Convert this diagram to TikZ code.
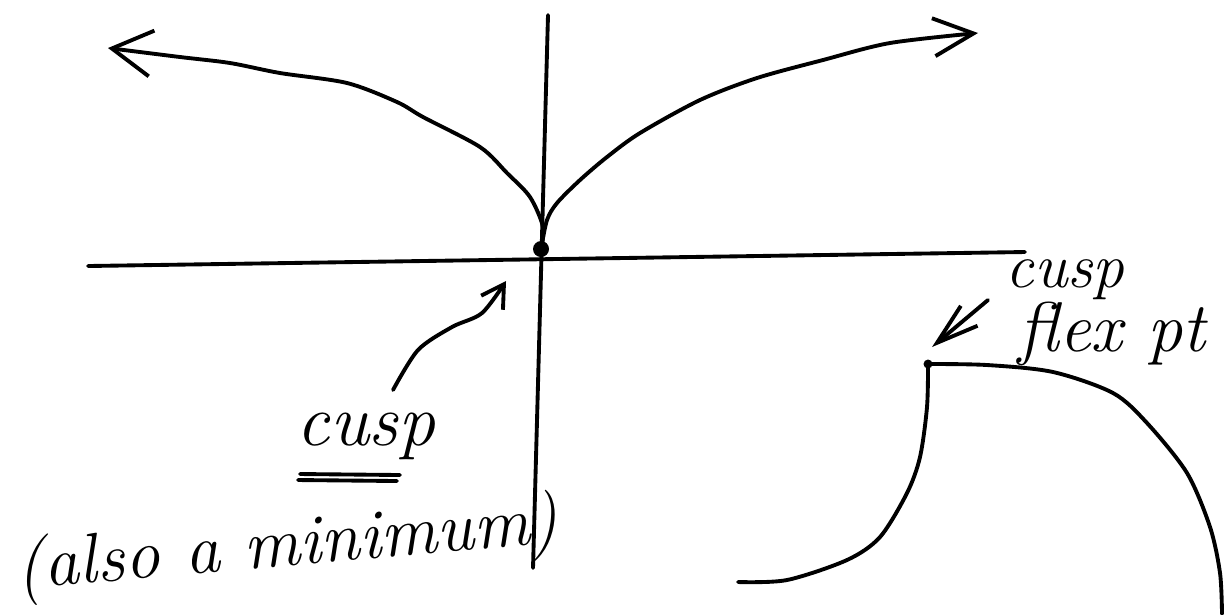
\documentclass[tikz,border=0pt]{standalone}
\usetikzlibrary{arrows.meta}
\begin{document}
\begin{tikzpicture}[x=0.01cm,y=-0.01cm,
  pen/.style={line width=1.1pt,line cap=round,line join=round},
  bigtip/.style={-{Straight Barb[length=4mm,width=4.6mm]}},
  smalltip/.style={-{Straight Barb[length=2.2mm,width=2.6mm]}},
  hand/.style={font=\fontsize{21}{24}\selectfont\itshape,inner sep=0pt}]
\useasboundingbox (0,0) rectangle (1225,614);
% key points
\coordinate (O) at (541,249);
\coordinate (P) at (928,364);
\coordinate (xl) at (88,266);
\coordinate (xr) at (1025,252);
\coordinate (yt) at (548,15);
\coordinate (yb) at (533,568);
% axes
\draw[pen] (xl) -- (xr);
\draw[pen] (yt) -- (yb);
% cusp curve
\draw[pen,bigtip] plot[smooth] coordinates {(541,249) (543,227) (530,197) (507,173) (480,147) (423,117) (397,102) (347,83) (280,73) (230,63) (180,57) (108,48)};
\draw[pen,-{Straight Barb[length=4mm,width=3.8mm]}] plot[smooth] coordinates {(541,249) (547,220) (557,203) (580,180) (607,157) (640,133) (700,100) (757,78) (823,60) (890,43) (978,33)};
\fill (O) circle[radius=8];
% labels lower left
\node[hand] (cusp) at (366,436) {cusp};
\draw[pen] (300,474) -- (400,475);
\draw[pen] (298,480) -- (397,481);
\node[hand,font=\fontsize{20}{24}\selectfont\itshape,rotate=5] (also) at (287,548) {(also a minimum)};
\coordinate (a1) at (393,390);
\draw[pen,smalltip] plot[smooth] coordinates {(393,390) (418,350) (452,327) (482,313) (506,281)};
% flex point curve
\draw[pen] plot[smooth] coordinates {(928,364) (927,407) (920,457) (907,493) (880,537) (847,560) (787,580) (738,582)};
\draw[pen] plot[smooth] coordinates {(928,364) (987,365) (1053,372) (1113,393) (1147,423) (1187,473) (1210,527) (1220,573) (1222,614)};
\fill (P) circle[radius=4.5];
\node[hand,font=\fontsize{18}{22}\selectfont\itshape,anchor=west] (cusp2) at (1005,280) {cusp};
\node[hand,font=\fontsize{20}{24}\selectfont\itshape,anchor=west] (flex) at (1018,334) {flex pt};
\coordinate (f1) at (988,300);
\draw[pen,-{Straight Barb[length=4.2mm,width=2.6mm]}] (f1) -- (932,347);
\end{tikzpicture}
\end{document}
